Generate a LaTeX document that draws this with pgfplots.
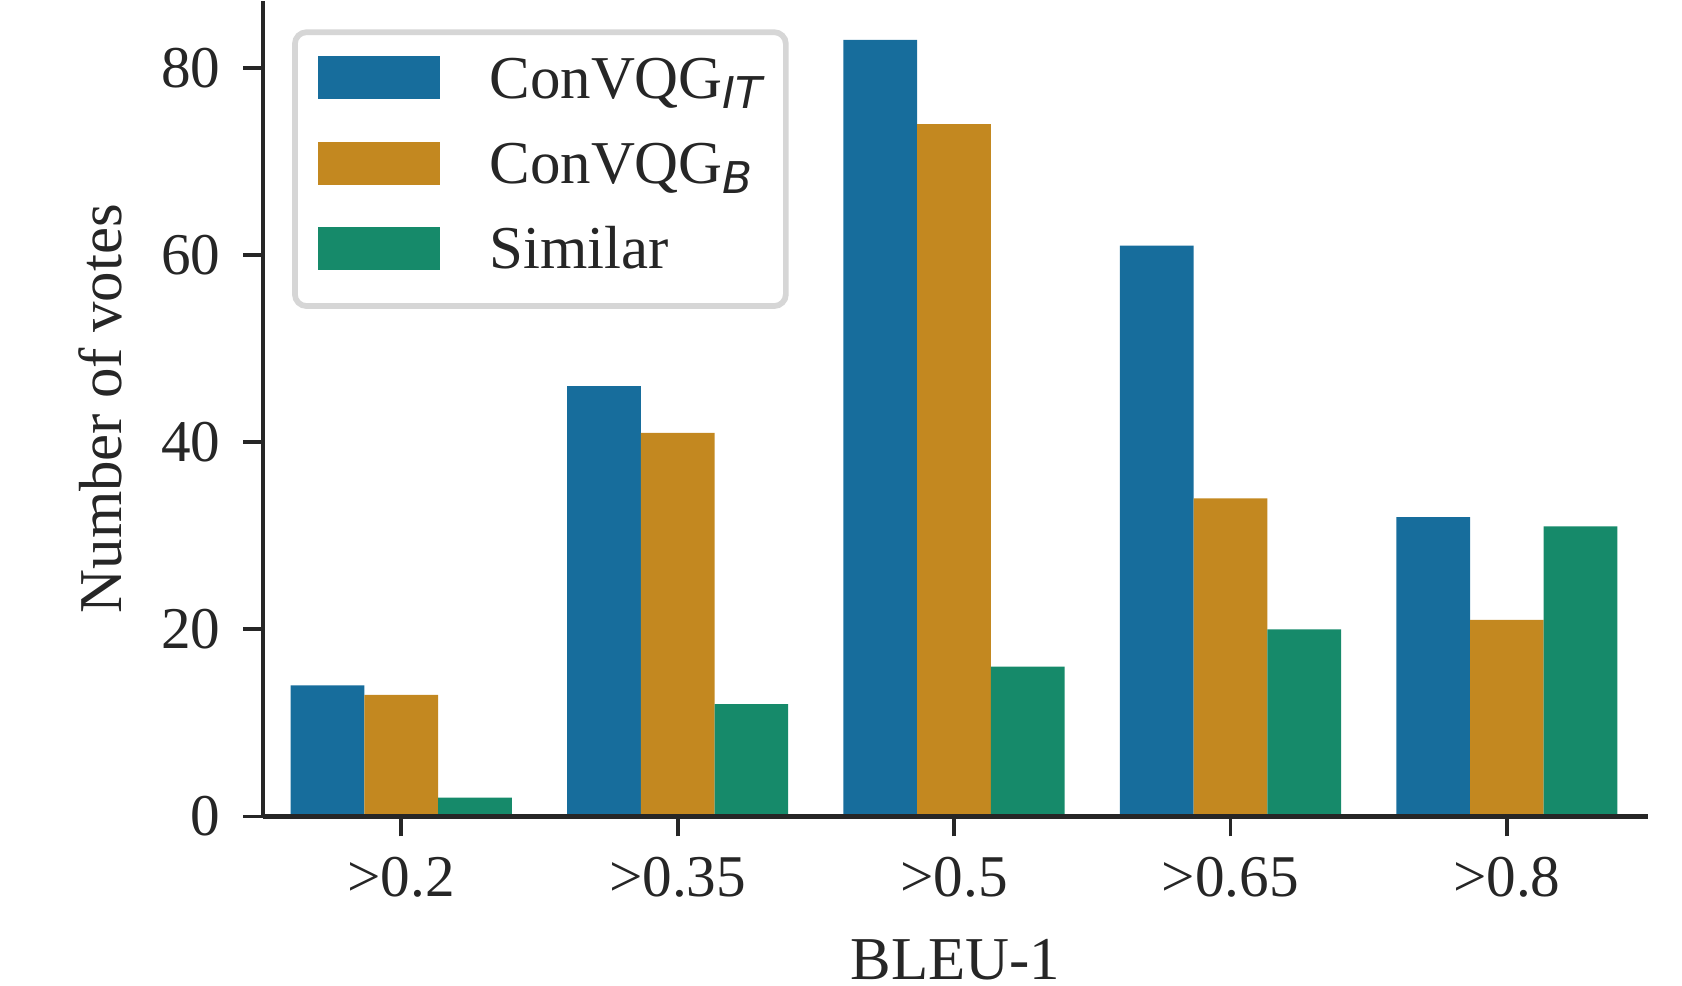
\documentclass[border=0pt]{standalone}
\usepackage{pgfplots}
\pgfplotsset{compat=1.18}
\usepackage{fontspec}
\setmainfont{Liberation Serif}
\newfontfamily\subfont{DejaVu Sans Oblique}

\definecolor{cIT}{HTML}{176D9C}
\definecolor{cB}{HTML}{C38820}
\definecolor{cSim}{HTML}{168A6A}
\definecolor{ink}{HTML}{262626}
\definecolor{legframe}{HTML}{D6D6D6}

% matplotlib-style subscript in sans oblique
\newcommand{\sub}[1]{\raisebox{-2.4pt}{\fontsize{10.5}{12}\selectfont\subfont #1}}

\begin{document}
\begin{tikzpicture}
\useasboundingbox (-63.1pt,-40.6pt) rectangle (340.4pt,195.85pt);
\begin{axis}[
  at={(0pt,0pt)}, anchor=south west,
  scale only axis, width=332.2pt, height=195.6pt,
  xmin=-0.5, xmax=4.51, ymin=0, ymax=87.15,
  axis x line*=bottom, axis y line*=left,
  axis line style={line width=1.15pt, ink},
  axis on top,
  tick align=outside, major tick length=4.8pt,
  tick style={line width=0.9pt, ink},
  xtick={0,1,2,3,4},
  xticklabels={>0.2, >0.35, >0.5, >0.65, >0.8},
  ytick={0,20,40,60,80},
  /pgf/number format/assume math mode=true,
  tick label style={font=\fontsize{14.2}{17}\selectfont, text=ink},
  xticklabel style={inner sep=0pt, anchor=base, yshift=-14.5pt},
  yticklabel style={inner sep=0pt, anchor=east, xshift=-5.2pt},
  xlabel={BLEU-1}, ylabel={Number of votes},
  every axis x label/.style={at={(axis description cs:0.5,-0.2000)}, anchor=base, inner sep=0pt,
    font=\fontsize{14.6}{17}\selectfont, text=ink},
  every axis y label/.style={at={(axis description cs:-0.1012,0.5)}, rotate=90, anchor=south, inner sep=0pt,
    font=\fontsize{14.6}{17}\selectfont, text=ink},
  ybar=0pt, bar width=0.2667,
  legend cell align=left,
  legend image code/.code={\fill[#1, sharp corners] (0pt,-5.15pt) rectangle (29.3pt,5.15pt); \path (0pt,-9pt);},
  legend style={at={(axis description cs:0.02095,0.9653)}, anchor=north west,
    draw=legframe, line width=1.37pt, rounded corners=2.8pt, fill=white,
    inner xsep=5.6pt, inner ysep=4.8pt, column sep=11.8pt, row sep=5.4pt,
    nodes={inner sep=0pt, text height=11pt, text depth=1.2pt, text=ink,
      font=\fontsize{14.6}{17}\selectfont}},
]
\addplot[draw=none, fill=cIT, bar shift=-0.2667] coordinates {(0,14) (1,46) (2,83) (3,61) (4,32)};
\addlegendentry{ConVQG\sub{IT}}
\addplot[draw=none, fill=cB, bar shift=0] coordinates {(0,13) (1,41) (2,74) (3,34) (4,21)};
\addlegendentry{ConVQG\sub{B}}
\addplot[draw=none, fill=cSim, bar shift=0.2667] coordinates {(0,2) (1,12) (2,16) (3,20) (4,31)};
\addlegendentry{Similar}
\end{axis}
\end{tikzpicture}
\end{document}
